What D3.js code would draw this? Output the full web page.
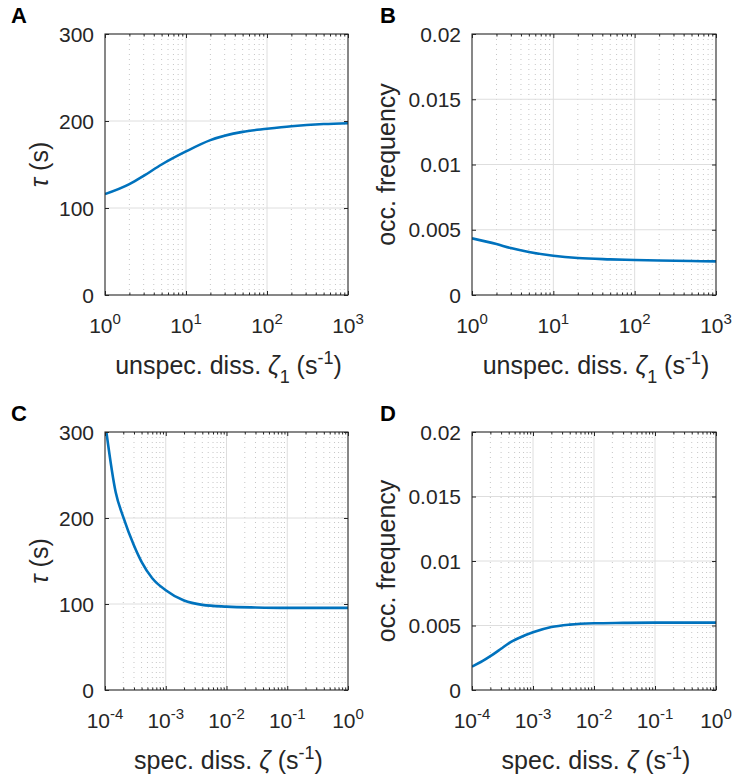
<html>
  <head>
    <script src="https://d3js.org/d3.v7.min.js"></script>
    <style>
      body {margin:0; background:white;}
      text {font-family: "Liberation Sans", Arial, sans-serif; fill:#262626;}
    </style>
  </head>
  <body>
    <div id="chart"></div>
    <script>
      // panel A / B : unspecific dissociation
      var zeta1 = [1, 2, 3, 5, 10, 20, 50, 100, 200, 500, 1000];
      var tauA = [116, 127.5, 137, 150, 165, 178, 187.5, 191, 194, 196.5, 197.5];
      var freqB = [0.00434, 0.0039, 0.0036, 0.0033, 0.00301, 0.00283, 0.00273, 0.00268, 0.00264, 0.0026, 0.00258];

      // panel C / D : specific dissociation
      var zeta = [1e-4, 1.5e-4, 2e-4, 3e-4, 4e-4, 6e-4, 1e-3, 2e-3, 4e-3, 1e-2, 3e-2, 1e-1, 1];
      var tauC = [312, 230, 201, 168, 149, 130, 116, 104, 99, 97, 96, 95.5, 95.5];
      var freqD = [0.00181, 0.00225, 0.00262, 0.0032, 0.00362, 0.00405, 0.00447, 0.00488, 0.00507, 0.00517, 0.0052, 0.00522, 0.00522];

      var tauTicks = [0, 100, 200, 300];
      var freqTicks = [0, 0.005, 0.01, 0.015, 0.02];
      var freqTickLabels = ["0", "0.005", "0.01", "0.015", "0.02"];

      var panels = [
        {letter:"A", x:zeta1, y:tauA, xdom:[1,1000], ydom:[0,300], yticks:tauTicks, ylabels:tauTicks.map(String),
         box:{left:105, right:348, top:34, bottom:295}, xtitle:"unspec", ytitle:"tau"},
        {letter:"B", x:zeta1, y:freqB, xdom:[1,1000], ydom:[0,0.02], yticks:freqTicks, ylabels:freqTickLabels,
         box:{left:472, right:716, top:34, bottom:295}, xtitle:"unspec", ytitle:"freq"},
        {letter:"C", x:zeta, y:tauC, xdom:[1e-4,1], ydom:[0,300], yticks:tauTicks, ylabels:tauTicks.map(String),
         box:{left:105, right:348, top:432, bottom:690}, xtitle:"spec", ytitle:"tau"},
        {letter:"D", x:zeta, y:freqD, xdom:[1e-4,1], ydom:[0,0.02], yticks:freqTicks, ylabels:freqTickLabels,
         box:{left:472, right:716, top:432, bottom:690}, xtitle:"spec", ytitle:"freq"}
      ];

      var svg = d3.select("#chart")
        .append("svg")
          .attr("width", 735)
          .attr("height", 780);

      var ink = "#262626";

      panels.forEach(function(p, i){
        var b = p.box;
        var x = d3.scaleLog().domain(p.xdom).range([b.left, b.right]);
        var y = d3.scaleLinear().domain(p.ydom).range([b.bottom, b.top]);

        var e0 = Math.round(Math.log10(p.xdom[0])), e1 = Math.round(Math.log10(p.xdom[1]));
        var majors = d3.range(e0, e1 + 1).map(function(e){ return Math.pow(10, e); });
        var minors = [];
        for(var e = e0; e < e1; e++){
          for(var m = 2; m <= 9; m++){ minors.push(m * Math.pow(10, e)); }
        }

        var g = svg.append("g");

        // grid
        g.selectAll(".minor").data(minors).enter().append("line")
          .attr("x1", function(d){ return x(d); }).attr("x2", function(d){ return x(d); })
          .attr("y1", b.top).attr("y2", b.bottom)
          .attr("stroke", "#c6c6c6").attr("stroke-width", 1)
          .attr("stroke-dasharray", "1,4");
        g.selectAll(".xmaj").data(majors.slice(1, -1)).enter().append("line")
          .attr("x1", function(d){ return x(d); }).attr("x2", function(d){ return x(d); })
          .attr("y1", b.top).attr("y2", b.bottom)
          .attr("stroke", "#dedede").attr("stroke-width", 1);
        g.selectAll(".ymaj").data(p.yticks.slice(1, -1)).enter().append("line")
          .attr("x1", b.left).attr("x2", b.right)
          .attr("y1", function(d){ return y(d); }).attr("y2", function(d){ return y(d); })
          .attr("stroke", "#dedede").attr("stroke-width", 1);

        // curve
        var clipId = "clip" + i;
        g.append("clipPath").attr("id", clipId).append("rect")
          .attr("x", b.left).attr("y", b.top)
          .attr("width", b.right - b.left).attr("height", b.bottom - b.top);
        g.append("path")
          .datum(d3.zip(p.x, p.y))
          .attr("clip-path", "url(#" + clipId + ")")
          .attr("d", d3.line()
            .x(function(d){ return x(d[0]); })
            .y(function(d){ return y(d[1]); })
            .curve(d3.curveMonotoneX))
          .attr("fill", "none")
          .attr("stroke", "#0072BD")
          .attr("stroke-width", 2.6);

        // axes with inward ticks (box on)
        function styleAxis(sel){
          sel.select(".domain").remove();
          sel.selectAll("line").attr("stroke", ink);
        }
        g.append("g").attr("transform", "translate(0," + b.bottom + ")")
          .call(d3.axisBottom(x).tickValues(majors).tickSize(-4).tickFormat("")).call(styleAxis);
        g.append("g").attr("transform", "translate(0," + b.bottom + ")")
          .call(d3.axisBottom(x).tickValues(minors).tickSize(-2.5).tickFormat("")).call(styleAxis);
        g.append("g").attr("transform", "translate(0," + b.top + ")")
          .call(d3.axisTop(x).tickValues(majors).tickSize(-4).tickFormat("")).call(styleAxis);
        g.append("g").attr("transform", "translate(0," + b.top + ")")
          .call(d3.axisTop(x).tickValues(minors).tickSize(-2.5).tickFormat("")).call(styleAxis);
        g.append("g").attr("transform", "translate(" + b.left + ",0)")
          .call(d3.axisLeft(y).tickValues(p.yticks).tickSize(-4).tickFormat("")).call(styleAxis);
        g.append("g").attr("transform", "translate(" + b.right + ",0)")
          .call(d3.axisRight(y).tickValues(p.yticks).tickSize(-4).tickFormat("")).call(styleAxis);

        g.append("rect")
          .attr("x", b.left).attr("y", b.top)
          .attr("width", b.right - b.left).attr("height", b.bottom - b.top)
          .attr("fill", "none").attr("stroke", ink).attr("stroke-width", 1.1);

        // x tick labels 10^n
        var xl = g.selectAll(".xl").data(majors).enter().append("text")
          .attr("x", function(d){ return x(d); })
          .attr("y", b.bottom + 38)
          .attr("text-anchor", "middle")
          .style("font-size", "21px");
        xl.append("tspan").text("10");
        xl.append("tspan").attr("dy", -9).style("font-size", "15px")
          .text(function(d){ return String(Math.round(Math.log10(d))); });

        // y tick labels
        g.selectAll(".yl").data(p.yticks).enter().append("text")
          .attr("x", b.left - 11)
          .attr("y", function(d){ return y(d); })
          .attr("dy", "0.36em")
          .attr("text-anchor", "end")
          .style("font-size", "21px")
          .text(function(d, j){ return p.ylabels[j]; });

        // x title
        var cx = (b.left + b.right) / 2;
        var xt = g.append("text")
          .attr("x", cx + 2).attr("y", b.bottom + 79)
          .attr("text-anchor", "middle")
          .style("font-size", "25px");
        if(p.xtitle == "unspec"){
          xt.append("tspan").text("unspec. diss. ");
          xt.append("tspan").style("font-style", "italic").text("\u03B6");
          xt.append("tspan").attr("dy", 9).style("font-size", "18px").text("1");
          xt.append("tspan").attr("dy", -9).text(" (s");
        } else {
          xt.append("tspan").text("spec. diss. ");
          xt.append("tspan").style("font-style", "italic").text("\u03B6");
          xt.append("tspan").text(" (s");
        }
        xt.append("tspan").attr("dy", -10).style("font-size", "18px").text("-1");
        xt.append("tspan").attr("dy", 10).text(")");

        // y title
        var cy = (b.top + b.bottom) / 2;
        var yt = g.append("text")
          .attr("transform", "translate(" + (b.left - (p.ytitle == "tau" ? 57 : 77)) + "," + cy + ") rotate(-90)")
          .attr("text-anchor", "middle")
          .style("font-size", "25px");
        if(p.ytitle == "tau"){
          yt.append("tspan").style("font-style", "italic").text("\u03C4");
          yt.append("tspan").text(" (s)");
        } else {
          yt.text("occ. frequency");
        }

        // panel letter
        svg.append("text")
          .attr("x", b.left - 94 + (p.ytitle == "freq" ? 2 : 0))
          .attr("y", b.top - 11)
          .style("font-size", "22px")
          .style("font-weight", "bold")
          .style("fill", "#000")
          .text(p.letter);
      });
    </script>
  </body>
</html>
